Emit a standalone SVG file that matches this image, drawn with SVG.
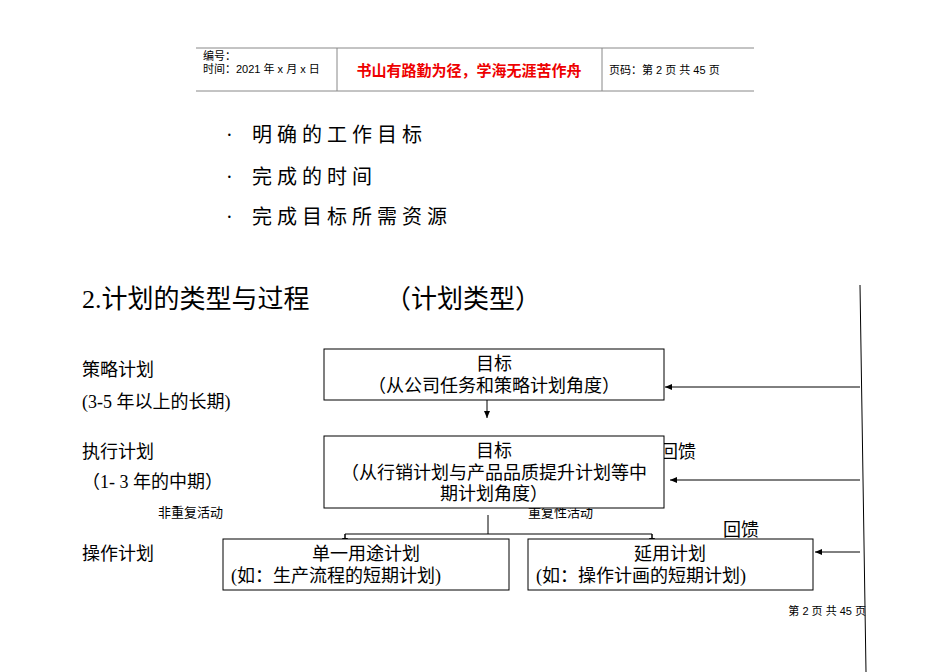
<svg xmlns="http://www.w3.org/2000/svg" width="950" height="672" viewBox="0 0 950 672">
<style>
.s{font-family:"Liberation Serif","Noto Sans CJK SC",serif;fill:#000}
.h{font-family:"Liberation Sans","Noto Sans CJK SC",sans-serif;fill:#000}
.b{fill:#fff;stroke:#000;stroke-width:1}
.l{stroke:#000;stroke-width:1;fill:none}
</style>
<defs><marker id="a" markerWidth="8" markerHeight="8" refX="7" refY="4" orient="auto" markerUnits="userSpaceOnUse"><path d="M0,1 L7,4 L0,7z" fill="#000"/></marker></defs>
<rect width="950" height="672" fill="#fff"/>
<g id="header">
<line x1="196" y1="48" x2="754" y2="48" stroke="#888"/>
<line x1="196" y1="91" x2="754" y2="91" stroke="#888"/>
<line x1="337" y1="48" x2="337" y2="91" stroke="#888"/>
<line x1="602" y1="48" x2="602" y2="91" stroke="#888"/>
<text class="h" x="203" y="60" font-size="11">编号：</text>
<text class="h" x="203" y="73" font-size="11">时间：2021 年 x 月 x 日</text>
<text class="h" x="469" y="76" font-size="15" font-weight="bold" style="fill:#e00" text-anchor="middle">书山有路勤为径，学海无涯苦作舟</text>
<text class="h" x="609" y="74" font-size="11">页码：第 2 页 共 45 页</text>
</g>
<g id="bullets" class="s" font-size="20">
<text x="226" y="142">·</text><text x="252" y="142" letter-spacing="5">明确的工作目标</text>
<text x="226" y="184">·</text><text x="252" y="184" letter-spacing="5">完成的时间</text>
<text x="226" y="224">·</text><text x="252" y="224" letter-spacing="5">完成目标所需资源</text>
</g>
<text class="s" x="82" y="308" font-size="26">2.计划的类型与过程</text>
<text class="s" x="385" y="308" font-size="26">（计划类型）</text>
<g class="s" font-size="18">
<text x="82" y="376">策略计划</text>
<text x="82" y="408">(3-5 年以上的长期)</text>
<text x="82" y="458">执行计划</text>
<text x="82" y="488">（1- 3 年的中期）</text>
<text x="82" y="560">操作计划</text>
<text x="660" y="458">回馈</text>
<text x="723" y="536">回馈</text>
</g>
<text class="h" x="158" y="517" font-size="13">非重复活动</text>
<text class="h" x="528" y="517" font-size="13">重复性活动</text>
<g id="connectors">
<line class="l" x1="860" y1="285" x2="866" y2="672"/>
<line class="l" x1="860" y1="387" x2="665" y2="387" marker-end="url(#a)"/>
<line class="l" x1="860" y1="480" x2="670" y2="480" marker-end="url(#a)"/>
<line class="l" x1="860" y1="552" x2="815" y2="552" marker-end="url(#a)"/>
<line class="l" x1="487" y1="400" x2="487" y2="418" marker-end="url(#a)"/>
<line class="l" x1="488" y1="515" x2="488" y2="534"/>
<path class="l" d="M345,544 V534 H652 V544"/>
<line class="l" x1="345" y1="534" x2="345" y2="545" marker-end="url(#a)"/>
<line class="l" x1="652" y1="534" x2="652" y2="545" marker-end="url(#a)"/>
</g>
<g id="n1"><rect class="b" x="324" y="349" width="340" height="51"/>
<text class="s" x="494" y="370" font-size="18" text-anchor="middle">目标</text>
<text class="s" x="494" y="392" font-size="18" text-anchor="middle">（从公司任务和策略计划角度）</text></g>
<g id="n2"><rect class="b" x="324" y="436" width="340" height="72"/>
<text class="s" x="494" y="457" font-size="18" text-anchor="middle">目标</text>
<text class="s" x="494" y="479" font-size="18" text-anchor="middle">（从行销计划与产品品质提升计划等中</text>
<text class="s" x="494" y="500" font-size="18" text-anchor="middle">期计划角度）</text></g>
<g id="n3"><rect class="b" x="223" y="539" width="286" height="51"/>
<text class="s" x="366" y="560" font-size="18" text-anchor="middle">单一用途计划</text>
<text class="s" x="231" y="582" font-size="18">(如：生产流程的短期计划)</text></g>
<g id="n4"><rect class="b" x="528" y="539" width="285" height="51"/>
<text class="s" x="670" y="560" font-size="18" text-anchor="middle">延用计划</text>
<text class="s" x="536" y="582" font-size="18">(如：操作计画的短期计划)</text></g>
<text class="h" x="866" y="615" font-size="11" text-anchor="end">第 2 页 共 45 页</text>
</svg>
